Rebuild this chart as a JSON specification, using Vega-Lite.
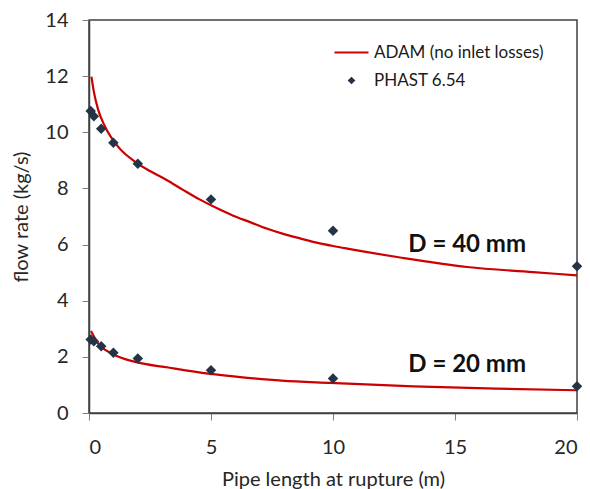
{
  "$schema": "https://vega.github.io/schema/vega-lite/v6.json",
  "width": 488,
  "height": 393,
  "autosize": "none",
  "padding": {"left": 89, "top": 20, "right": 13, "bottom": 76},
  "background": "white",
  "config": {
    "font": "Lato",
    "view": {"stroke": "#404040", "strokeWidth": 1.5},
    "axis": {
      "grid": false,
      "domainColor": "#404040",
      "domainWidth": 1.5,
      "tickColor": "#7f7f7f",
      "tickSize": 7,
      "labelFont": "Lato",
      "labelFontSize": 20,
      "labelColor": "#262626",
      "titleFont": "Lato",
      "titleFontSize": 20,
      "titleFontWeight": "normal",
      "titleColor": "#262626"
    },
    "legend": {
      "labelFont": "Lato",
      "labelFontSize": 17,
      "labelColor": "#1a1a1a",
      "labelLimit": 400,
      "padding": 0
    }
  },
  "datasets": {
    "curves": [
      {"L": 0.1, "q": 11.98, "d": "40"},
      {"L": 0.2, "q": 11.44, "d": "40"},
      {"L": 0.38, "q": 10.79, "d": "40"},
      {"L": 0.66, "q": 10.2, "d": "40"},
      {"L": 1.2, "q": 9.48, "d": "40"},
      {"L": 1.89, "q": 8.95, "d": "40"},
      {"L": 2.5, "q": 8.62, "d": "40"},
      {"L": 3.18, "q": 8.3, "d": "40"},
      {"L": 3.87, "q": 7.94, "d": "40"},
      {"L": 4.55, "q": 7.6, "d": "40"},
      {"L": 5.23, "q": 7.3, "d": "40"},
      {"L": 5.91, "q": 7.03, "d": "40"},
      {"L": 6.6, "q": 6.8, "d": "40"},
      {"L": 7.28, "q": 6.57, "d": "40"},
      {"L": 7.96, "q": 6.38, "d": "40"},
      {"L": 8.65, "q": 6.22, "d": "40"},
      {"L": 9.33, "q": 6.07, "d": "40"},
      {"L": 10.0, "q": 5.95, "d": "40"},
      {"L": 10.7, "q": 5.84, "d": "40"},
      {"L": 12.75, "q": 5.54, "d": "40"},
      {"L": 15.5, "q": 5.2, "d": "40"},
      {"L": 18.2, "q": 5.02, "d": "40"},
      {"L": 20, "q": 4.9, "d": "40"},
      {"L": 0.08, "q": 2.92, "d": "20"},
      {"L": 0.38, "q": 2.47, "d": "20"},
      {"L": 0.93, "q": 2.12, "d": "20"},
      {"L": 1.89, "q": 1.82, "d": "20"},
      {"L": 3.25, "q": 1.62, "d": "20"},
      {"L": 4.89, "q": 1.4, "d": "20"},
      {"L": 6.39, "q": 1.26, "d": "20"},
      {"L": 7.9, "q": 1.15, "d": "20"},
      {"L": 9.9, "q": 1.07, "d": "20"},
      {"L": 13.3, "q": 0.95, "d": "20"},
      {"L": 16.7, "q": 0.87, "d": "20"},
      {"L": 20, "q": 0.81, "d": "20"}
    ],
    "points": [
      {"L": 0.07, "q": 10.76, "d": "40"},
      {"L": 0.2, "q": 10.57, "d": "40"},
      {"L": 0.5, "q": 10.13, "d": "40"},
      {"L": 1, "q": 9.63, "d": "40"},
      {"L": 2, "q": 8.88, "d": "40"},
      {"L": 5, "q": 7.61, "d": "40"},
      {"L": 10, "q": 6.49, "d": "40"},
      {"L": 20, "q": 5.23, "d": "40"},
      {"L": 0.07, "q": 2.62, "d": "20"},
      {"L": 0.2, "q": 2.56, "d": "20"},
      {"L": 0.5, "q": 2.38, "d": "20"},
      {"L": 1, "q": 2.15, "d": "20"},
      {"L": 2, "q": 1.94, "d": "20"},
      {"L": 5, "q": 1.52, "d": "20"},
      {"L": 10, "q": 1.23, "d": "20"},
      {"L": 20, "q": 0.95, "d": "20"}
    ],
    "labels": [
      {"L": 15.5, "q": 5.97, "text": "D = 40 mm"},
      {"L": 15.5, "q": 1.7, "text": "D = 20 mm"}
    ]
  },
  "encoding": {
    "x": {
      "field": "L", "type": "quantitative",
      "scale": {"domain": [0, 20], "nice": false},
      "axis": {"values": [0, 5, 10, 15, 20], "title": "Pipe length at rupture (m)", "labelPadding": 17, "titlePadding": 12}
    },
    "y": {
      "field": "q", "type": "quantitative",
      "scale": {"domain": [0, 14], "nice": false},
      "axis": {"values": [0, 2, 4, 6, 8, 10, 12, 14], "title": "flow rate (kg/s)", "labelPadding": 14, "titlePadding": 13}
    }
  },
  "layer": [
    {
      "data": {"name": "curves"},
      "mark": {"type": "line", "strokeWidth": 2.2, "interpolate": "monotone"},
      "encoding": {
        "detail": {"field": "d"},
        "color": {
          "datum": "ADAM (no inlet losses)",
          "type": "nominal",
          "scale": {"domain": ["ADAM (no inlet losses)"], "range": ["#cc0000"]},
          "legend": {"title": null, "orient": "none", "legendX": 244, "legendY": 14, "symbolType": "stroke", "symbolSize": 1156, "symbolStrokeWidth": 2.2, "labelOffset": 4}
        }
      }
    },
    {
      "data": {"name": "points"},
      "mark": {"type": "point", "filled": true, "opacity": 1, "size": 110},
      "encoding": {
        "shape": {
          "datum": "PHAST 6.54",
          "type": "nominal",
          "scale": {"domain": ["PHAST 6.54"], "range": ["diamond"]},
          "legend": {"title": null, "orient": "none", "legendX": 254, "legendY": 52, "symbolSize": 60, "symbolFillColor": "#243447", "symbolStrokeColor": "#243447", "labelOffset": 14}
        },
        "color": {"value": "#243447"}
      }
    },
    {
      "data": {"name": "labels"},
      "mark": {"type": "text", "fontSize": 24, "fontWeight": "bold", "font": "Lato", "color": "#111111", "align": "center", "baseline": "middle"},
      "encoding": {"text": {"field": "text"}}
    }
  ]
}
